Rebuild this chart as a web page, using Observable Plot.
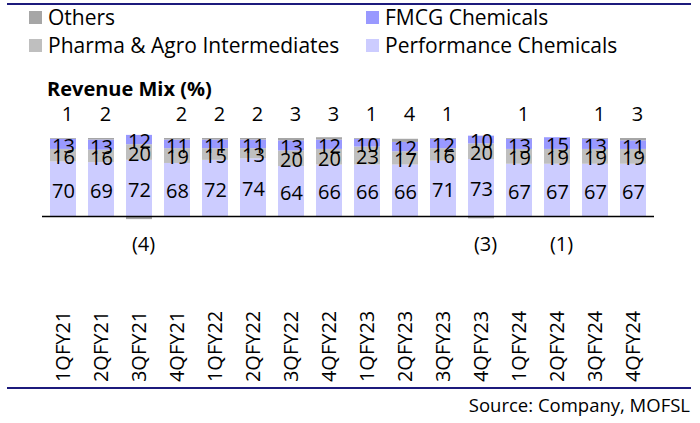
<!DOCTYPE html>
<html>
<head>
<meta charset="utf-8">
<script src="https://cdn.jsdelivr.net/npm/d3@7"></script>
<script src="https://cdn.jsdelivr.net/npm/@observablehq/plot@0.6"></script>
<style>
  html, body { margin: 0; padding: 0; background: #fff; }
  #page { position: relative; width: 700px; height: 423px; overflow: hidden; font-family: "Open Sans", sans-serif; color: #000; }
  .hline { position: absolute; left: 7px; width: 684px; height: 2px; background: #1c1a7c; }
  .leg { position: absolute; display: flex; align-items: center; font-size: 21px; line-height: 24px; white-space: nowrap; }
  .sw { width: 13px; height: 13px; margin-right: 6px; display: inline-block; }
  #title { position: absolute; left: 47px; top: 77px; font-size: 20px; font-weight: 700; line-height: 24px; }
  #chart { position: absolute; left: 0; top: 100px; }
  #source { position: absolute; right: 10px; top: 393px; font-size: 18.5px; line-height: 24px; }
</style>
</head>
<body>
<div id="page">
  <div class="hline" style="top:3px"></div>
  <div id="legend"></div>
  <div id="title">Revenue Mix (%)</div>
  <div id="chart"></div>
  <div class="hline" style="top:387px"></div>
  <div id="source">Source: Company, MOFSL</div>
</div>
<script>
const quarters = ["1QFY21","2QFY21","3QFY21","4QFY21","1QFY22","2QFY22","3QFY22","4QFY22","1QFY23","2QFY23","3QFY23","4QFY23","1QFY24","2QFY24","3QFY24","4QFY24"];
const performance = [70,69,72,68,72,74,64,66,66,66,71,73,67,67,67,67];
const pharma      = [16,16,20,19,15,13,20,20,23,17,16,20,19,19,19,19];
const fmcg        = [13,13,12,11,11,11,13,12,10,12,12,10,13,15,13,11];
const others      = [1,2,-4,2,2,2,3,3,1,4,1,-3,1,-1,1,3];
const seriesNames = ["Performance Chemicals","Pharma & Agro Intermediates","FMCG Chemicals","Others"];
const seriesColors = ["#ccccff","#bfbfbf","#9999ff","#a6a6a6"];
const legendOrder = [
  {name: "Others", left: 29, top: 5},
  {name: "FMCG Chemicals", left: 366, top: 5},
  {name: "Pharma & Agro Intermediates", left: 29, top: 33},
  {name: "Performance Chemicals", left: 366, top: 33}
];

// legend
const legend = document.getElementById("legend");
for (const item of legendOrder) {
  const el = document.createElement("div");
  el.className = "leg";
  el.style.left = item.left + "px";
  el.style.top = item.top + "px";
  const sw = document.createElement("span");
  sw.className = "sw";
  sw.style.background = seriesColors[seriesNames.indexOf(item.name)];
  el.appendChild(sw);
  el.appendChild(document.createTextNode(item.name));
  legend.appendChild(el);
}

const seriesValues = [performance, pharma, fmcg, others];
const rows = [];
quarters.forEach((q, i) => {
  seriesNames.forEach((s, j) => rows.push({q, s, v: seriesValues[j][i]}));
});
const inner = rows.filter(d => d.s !== "Others");
const otherRows = rows.filter(d => d.s === "Others");

const chart = Plot.plot({
  width: 700,
  height: 290,
  marginLeft: 42,
  marginRight: 46,
  marginTop: 6.8,
  marginBottom: 142.8,
  x: {domain: quarters, paddingInner: 0.32, paddingOuter: 0.16, axis: null, label: null},
  y: {domain: [-40, 140], axis: null, label: null},
  color: {domain: seriesNames, range: seriesColors},
  style: {fontFamily: "Open Sans", fontSize: "20px", color: "#000", background: "transparent", overflow: "visible"},
  marks: [
    Plot.barY(rows, {x: "q", y: "v", fill: "s", z: "s"}),
    Plot.ruleY([0], {stroke: "#000", strokeWidth: 1.5}),
    Plot.text(inner, Plot.stackY({x: "q", y: "v", z: "s", text: d => String(d.v), dy: 2, fontSize: 20, fill: "#000"})),
    Plot.text(otherRows, {x: "q", y: d => d.v >= 0 ? 131 : -36, text: d => d.v >= 0 ? String(d.v) : `(${-d.v})`, dx: 4, fontSize: 20, fill: "#000"}),
    Plot.axisX({domain: quarters, label: null, tickSize: 0, tickPadding: 63, tickRotate: -90, fontSize: 20, fill: "#000"})
  ]
});
document.getElementById("chart").appendChild(chart);
</script>
</body>
</html>
